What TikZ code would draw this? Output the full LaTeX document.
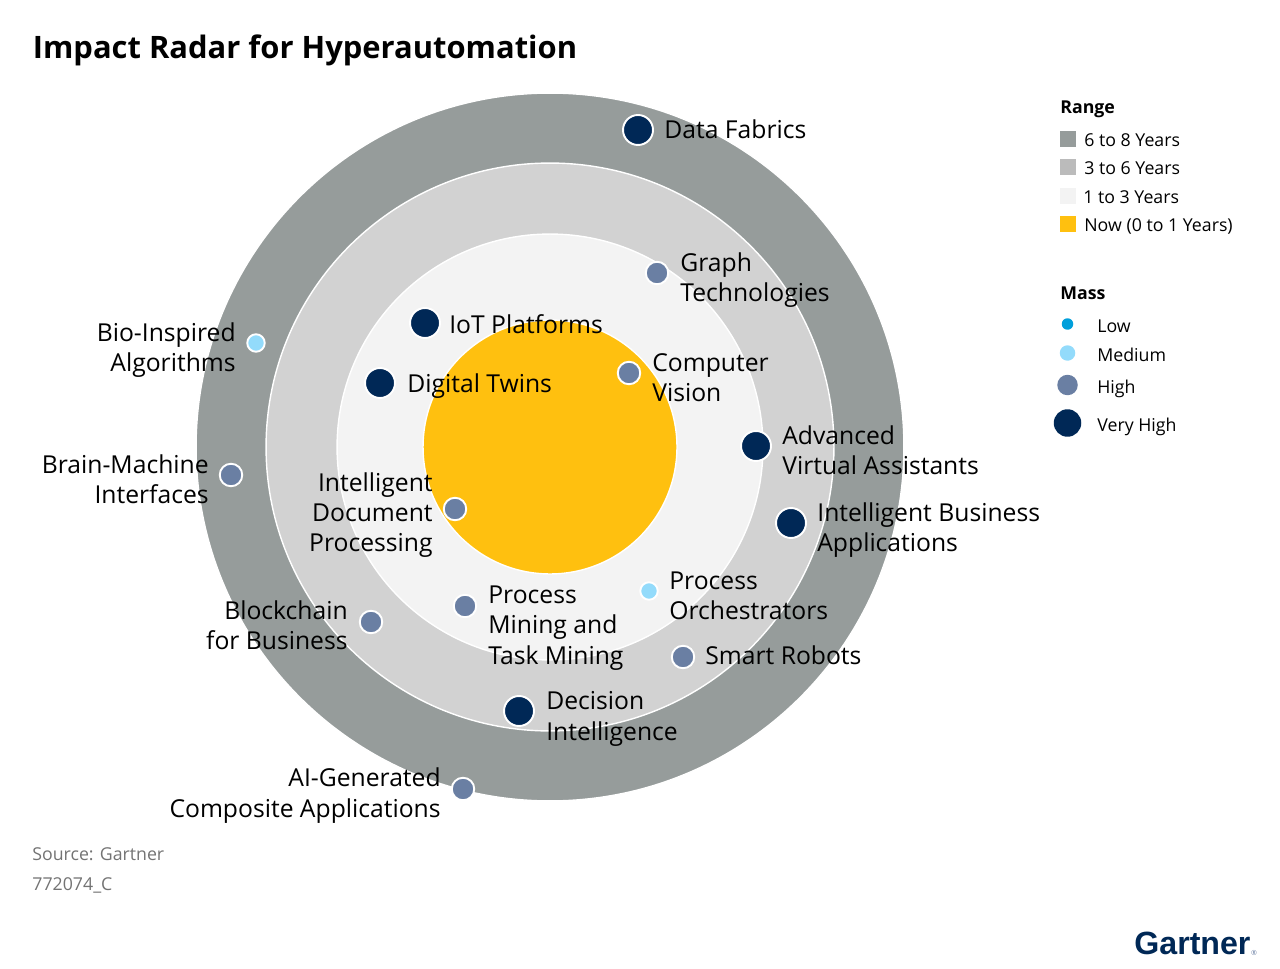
\documentclass[tikz,border=0pt]{standalone}
\usepackage{fontspec}
\setmainfont{Open Sans}
\newfontfamily\logofont{Liberation Sans}
\definecolor{navy}{HTML}{002856}
\definecolor{slateblue}{HTML}{6A7FA3}
\definecolor{skyblue}{HTML}{93DBFB}
\definecolor{lowblue}{HTML}{009FDB}
\definecolor{ringfar}{HTML}{969C9B}
\definecolor{ringmid}{HTML}{D2D2D2}
\definecolor{ringnear}{HTML}{F3F3F3}
\definecolor{ringnow}{HTML}{FFC00F}
\definecolor{keymid}{HTML}{BBBBBB}
\tikzset{
    ring/.style={circle, draw=white, line width=0.8pt, inner sep=0pt},
    bubble/.style={circle, draw=white, line width=1.1pt, inner sep=0pt},
    bubvh/.style={bubble, fill=navy, minimum size=0.6cm},
    bubh/.style={bubble, fill=slateblue, minimum size=0.45cm},
    bubm/.style={bubble, fill=skyblue, minimum size=0.35cm},
    keybub/.style={circle, inner sep=0pt},
    keybox/.style={minimum size=0.33cm, inner sep=0pt},
    lbl/.style={inner sep=0pt, font=\fontsize{14.05}{17.2}\selectfont},
    lblr/.style={lbl, anchor=west, align=left},
    lbll/.style={lbl, anchor=east, align=right},
    keytxt/.style={inner sep=0pt, anchor=west, font=\fontsize{10.1}{12}\selectfont},
    keyhead/.style={inner sep=0pt, anchor=west, font=\fontsize{10.1}{12}\selectfont\bfseries},
    srctxt/.style={inner sep=0pt, anchor=west, text=black!55, font=\fontsize{10.1}{12}\selectfont}
}
\begin{document}
\begin{tikzpicture}[x=0.02cm, y=-0.02cm]
    \useasboundingbox (0,0) rectangle (1280,969);
    \node[inner sep=0pt, anchor=west, font=\fontsize{17.6}{22}\selectfont\bfseries] (title) at (32.5,50) {Impact Radar for Hyperautomation};
    % rings
    \node[ring, fill=ringfar, minimum size=14.16cm] (far) at (550,447) {};
    \node[ring, fill=ringmid, minimum size=11.36cm] (mid) at (550,447) {};
    \node[ring, fill=ringnear, minimum size=8.52cm] (near) at (550,447) {};
    \node[ring, fill=ringnow, minimum size=5.08cm] (now) at (550,447) {};
    % bubbles
    \node[bubvh] (fabrics) at (638,130) {};
    \node[bubh] (graph) at (657,273) {};
    \node[bubvh] (iot) at (425,323) {};
    \node[bubvh] (twins) at (380,383) {};
    \node[bubh] (vision) at (629,373) {};
    \node[bubvh] (assist) at (756,446) {};
    \node[bubvh] (bizapps) at (791,523) {};
    \node[bubh] (idp) at (455,509) {};
    \node[bubm] (bio) at (256,343) {};
    \node[bubh] (brain) at (231,475) {};
    \node[bubh] (chain) at (371,622) {};
    \node[bubh] (mining) at (465,606) {};
    \node[bubm] (orch) at (649,591) {};
    \node[bubh] (robots) at (683,657) {};
    \node[bubvh] (decision) at (519,711) {};
    \node[bubh] (aigen) at (463,789) {};
    % labels
    \node[lblr] (fabricsL) at (664,129) {Data Fabrics};
    \node[lblr] (graphL) at (680,280) {Graph\\Technologies};
    \node[lblr] (iotL) at (449,324) {IoT Platforms};
    \node[lblr] (twinsL) at (407,386) {Digital Twins};
    \node[lblr] (visionL) at (652,378) {Computer\\Vision};
    \node[lblr] (assistL) at (782,450) {Advanced\\Virtual Assistants};
    \node[lblr] (bizappsL) at (817,530) {Intelligent Business\\Applications};
    \node[lbll] (idpL) at (433,515) {Intelligent\\Document\\Processing};
    \node[lbll] (bioL) at (236,350) {Bio-Inspired\\Algorithms};
    \node[lbll] (brainL) at (209,479) {Brain-Machine\\Interfaces};
    \node[lbll] (chainL) at (348,625.5) {Blockchain\\for Business};
    \node[lblr] (miningL) at (488,628) {Process\\Mining and\\Task Mining};
    \node[lblr] (orchL) at (669,595.5) {Process\\Orchestrators};
    \node[lblr] (robotsL) at (705,655) {Smart Robots};
    \node[lblr] (decisionL) at (546,719) {Decision\\Intelligence};
    \node[lbll] (aigenL) at (441,795.5) {AI-Generated\\Composite Applications};
    % range key
    \node[keyhead] (rangeH) at (1060,109) {Range};
    \node[keybox, fill=ringfar] (k1) at (1068,139) {};
    \node[keybox, fill=keymid] (k2) at (1068,167) {};
    \node[keybox, fill=ringnear] (k3) at (1068,196) {};
    \node[keybox, fill=ringnow] (k4) at (1068,224) {};
    \node[keytxt] (k1L) at (1084,140) {6 to 8 Years};
    \node[keytxt] (k2L) at (1084,168) {3 to 6 Years};
    \node[keytxt] (k3L) at (1083,197) {1 to 3 Years};
    \node[keytxt] (k4L) at (1084,226) {Now (0 to 1 Years)};
    % mass key
    \node[keyhead] (massH) at (1060,293) {Mass};
    \node[keybub, fill=lowblue, minimum size=0.23cm] (m1) at (1067.5,324) {};
    \node[keybub, fill=skyblue, minimum size=0.31cm] (m2) at (1067.5,353) {};
    \node[keybub, fill=slateblue, minimum size=0.41cm] (m3) at (1067.5,385) {};
    \node[keybub, fill=navy, minimum size=0.55cm] (m4) at (1067.5,423) {};
    \node[keytxt] (m1L) at (1097,326) {Low};
    \node[keytxt] (m2L) at (1097,355) {Medium};
    \node[keytxt] (m3L) at (1097,389) {High};
    \node[keytxt] (m4L) at (1097,427) {Very High};
    % footer
    \node[srctxt] (src) at (32,854) {Source: Gartner};
    \node[srctxt] (code) at (32,885) {772074\_C};
    \node[inner sep=0pt, anchor=west, text=navy, font=\fontsize{18.3}{22}\logofont\bfseries] (logo) at (1134,943) {Gartner};
    \node[inner sep=0pt, text=slateblue, font=\fontsize{4}{5}\selectfont] (logoR) at (1254,953) {®};
\end{tikzpicture}
\end{document}
